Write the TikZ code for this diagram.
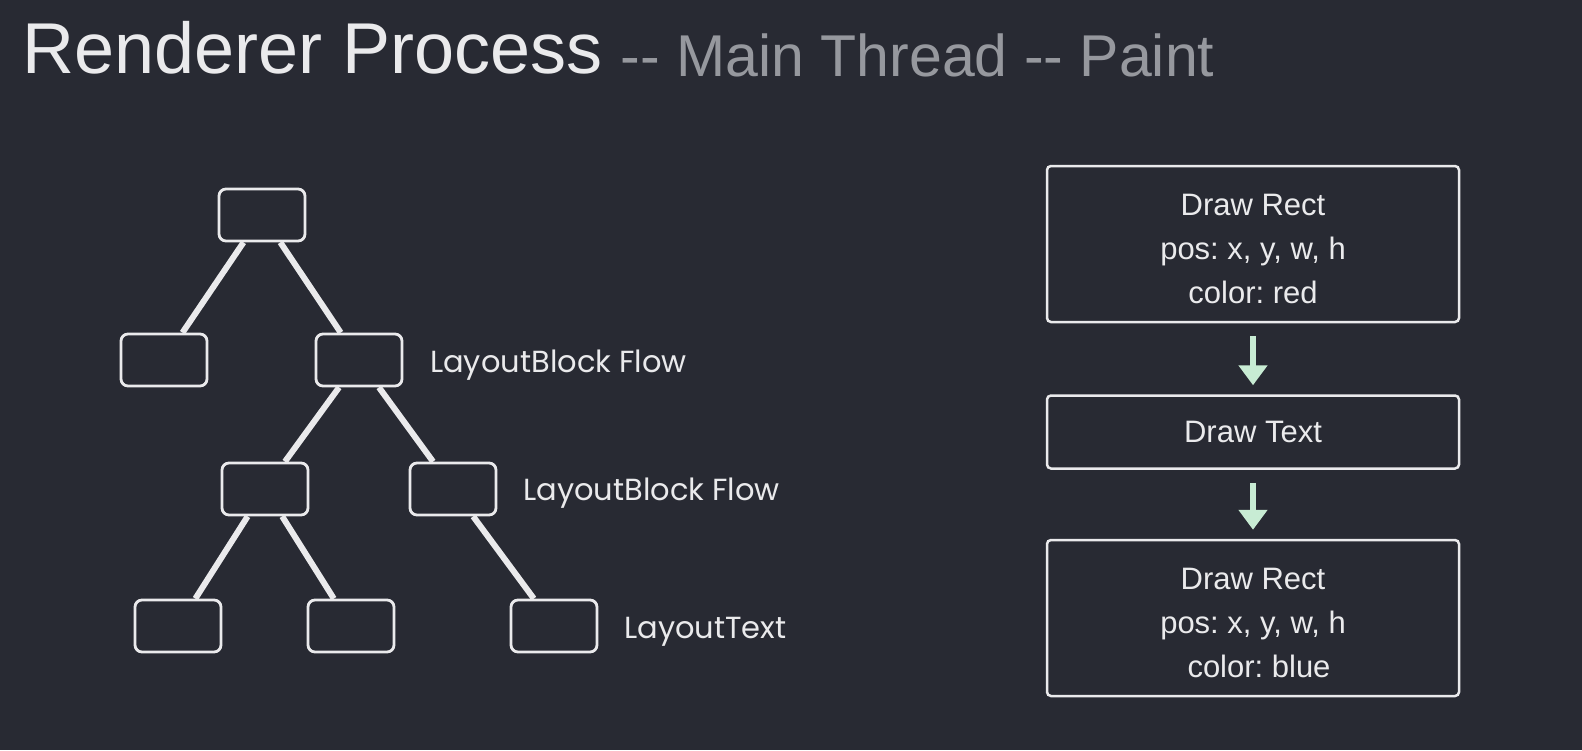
\documentclass[tikz,border=0pt]{standalone}
\usepackage{fontspec}
\setmainfont{Liberation Sans}
\newfontfamily\labelfont{Poppins}
\usetikzlibrary{positioning,arrows.meta,calc}

\definecolor{bgdark}{RGB}{40,42,51}
\definecolor{linewhite}{RGB}{234,234,236}
\definecolor{titlegray}{RGB}{150,152,158}
\definecolor{arrowgreen}{RGB}{200,236,212}

\frenchspacing

\tikzset{
  treebox/.style={draw=linewhite,line width=2.8pt,rounded corners=7pt,fill=bgdark,
     minimum width=86pt,minimum height=52pt,inner sep=0pt},
  treeedge/.style={draw=linewhite,line width=6pt},
  treelabel/.style={anchor=base west,inner sep=0pt,text=linewhite,
     font=\labelfont\fontsize{30.5}{36}\selectfont},
  paintbox/.style={draw=linewhite,line width=2.5pt,rounded corners=4pt,fill=bgdark,
     minimum width=412pt,inner sep=0pt,text=linewhite,align=center,
     font=\fontsize{31}{44}\selectfont},
  paintarrow/.style={draw=arrowgreen,line width=6pt,shorten <=13pt,shorten >=9pt,
     -{Triangle[width=28pt,length=20pt]}},
}

\begin{document}
\begin{tikzpicture}[x=1pt,y=-1pt]

\fill[bgdark] (0,0) rectangle (1582,750);

% title
\node[anchor=base west,inner sep=0pt,text=linewhite,font=\fontsize{72}{80}\selectfont]
   (title) at (22,73) {Renderer Process};
\node[anchor=base west,inner sep=0pt,text=titlegray,font=\fontsize{59}{66}\selectfont]
   (subtitle) at ($(title.base east)+(18,3)$) {-{}- Main Thread -{}- Paint};

% layout tree
\node[treebox] (root) at (262,215) {};
\node[treebox] (c1)   at (164,360) {};
\node[treebox] (c2)   at (359,360) {};
\node[treebox] (c21)  at (265,489) {};
\node[treebox] (c22)  at (453,489) {};
\node[treebox] (c211) at (178,626) {};
\node[treebox] (c212) at (351,626) {};
\node[treebox] (c221) at (554,626) {};

\foreach \a/\b in {root/c1,root/c2,c2/c21,c2/c22,c21/c211,c21/c212,c22/c221}
  {\draw[treeedge] (\a)--(\b);}

\node[treelabel] (lab1) at (430,372) {LayoutBlock Flow};
\node[treelabel] (lab2) at (523,500) {LayoutBlock Flow};
\node[treelabel] (lab3) at (624,638) {LayoutText};

% paint records
\node[paintbox,minimum height=156pt] (rect1) at (1253,244)
   {\rule{0pt}{32pt}Draw Rect\\pos: x, y, w, h\\color: red};
\node[paintbox,minimum height=73pt]  (text1) at (1253,432) {Draw Text};
\node[paintbox,minimum height=156pt] (rect2) at (1253,618)
   {\rule{0pt}{32pt}Draw Rect\\pos: x, y, w, h\\\hspace*{12pt}color: blue};

\draw[paintarrow] (rect1)--(text1);
\draw[paintarrow] (text1)--(rect2);

\end{tikzpicture}
\end{document}
